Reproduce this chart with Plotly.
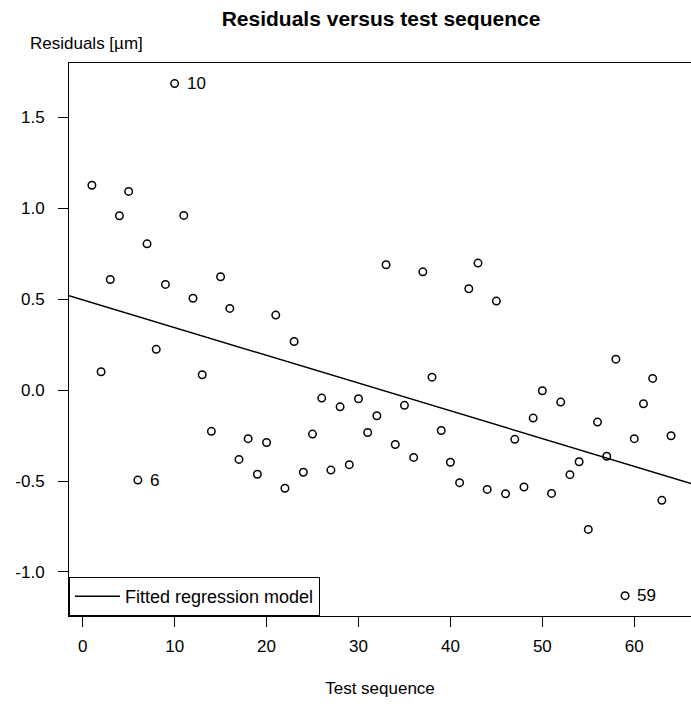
import numpy as np
import plotly.graph_objects as go

# ---- data ----
test_sequence = list(range(1, 65))
residuals = [
    1.126, 0.101, 0.608, 0.958, 1.092, -0.495, 0.804, 0.224, 0.581, 1.685,
    0.960, 0.505, 0.084, -0.227, 0.623, 0.449, -0.381, -0.267, -0.463, -0.288,
    0.412, -0.540, 0.267, -0.452, -0.242, -0.044, -0.440, -0.092, -0.410, -0.048,
    -0.233, -0.141, 0.689, -0.299, -0.084, -0.370, 0.650, 0.071, -0.222, -0.397,
    -0.509, 0.557, 0.698, -0.546, 0.489, -0.570, -0.271, -0.533, -0.154, -0.004,
    -0.568, -0.066, -0.465, -0.394, -0.766, -0.176, -0.364, 0.170, -1.130, -0.267,
    -0.075, 0.064, -0.606, -0.251,
]
labelled_points = [10, 6, 59]

x_tick_vals = [0, 10, 20, 30, 40, 50, 60]
x_tick_text = ["0", "10", "20", "30", "40", "50", "60"]
y_tick_vals = [-1.0, -0.5, 0.0, 0.5, 1.0, 1.5]
y_tick_text = ["-1.0", "-0.5", "0.0", "0.5", "1.0", "1.5"]

x_range = [-1.49, 66.17]
y_range = [-1.242, 1.798]

# fitted regression of residuals on test sequence
slope, intercept = np.polyfit(test_sequence, residuals, 1)
line_x = np.array(x_range)
line_y = intercept + slope * line_x

FONT = "Liberation Sans, Arial, Helvetica, sans-serif"

fig = go.Figure()
fig.add_trace(go.Scatter(
    x=test_sequence, y=residuals, mode="markers",
    marker=dict(symbol="circle-open", size=7.5, color="black",
                line=dict(color="black", width=1.5)),
    showlegend=False, hoverinfo="x+y",
))
fig.add_trace(go.Scatter(
    x=line_x, y=line_y, mode="lines",
    line=dict(color="black", width=1.5),
    name="Fitted regression model", showlegend=True,
))

for idx in labelled_points:
    fig.add_annotation(
        x=test_sequence[idx - 1], y=residuals[idx - 1], text=str(idx),
        xref="x", yref="y", xanchor="left", yanchor="middle",
        xshift=10, showarrow=False,
        font=dict(family=FONT, size=17, color="black"),
    )

fig.add_annotation(
    text="Residuals [µm]", xref="paper", yref="paper",
    x=(28 - 69) / 622, y=1, xanchor="left", yanchor="bottom", yshift=8,
    showarrow=False, font=dict(family=FONT, size=17, color="black"),
)

fig.update_layout(
    width=691, height=706,
    margin=dict(l=69, r=0, t=63, b=90),
    paper_bgcolor="white", plot_bgcolor="white",
    font=dict(family=FONT, size=17, color="black"),
    title=dict(text="<b>Residuals versus test sequence</b>",
               x=381 / 691, xanchor="center", y=1 - 19 / 706, yanchor="middle",
               font=dict(family=FONT, size=21, color="black")),
    legend=dict(x=0, y=0, xanchor="left", yanchor="bottom",
                bgcolor="white", bordercolor="black", borderwidth=1,
                itemwidth=45, tracegroupgap=0,
                font=dict(family=FONT, size=18, color="black")),
    showlegend=True,
)
fig.update_xaxes(
    range=x_range, tickvals=x_tick_vals, ticktext=x_tick_text,
    showgrid=False, zeroline=False, showline=True, linecolor="black",
    linewidth=1, mirror=True, ticks="outside", ticklen=10, tickcolor="black",
    tickwidth=1, ticklabelstandoff=5,
    tickfont=dict(family=FONT, size=17, color="black"),
    title=dict(text="Test sequence", font=dict(family=FONT, size=17, color="black"),
               standoff=26),
)
fig.update_yaxes(
    range=y_range, tickvals=y_tick_vals, ticktext=y_tick_text,
    showgrid=False, zeroline=False, showline=True, linecolor="black",
    linewidth=1, mirror=False, ticks="outside", ticklen=10, tickcolor="black",
    tickwidth=1, ticklabelstandoff=10,
    tickfont=dict(family=FONT, size=17, color="black"),
)

fig.write_html("out.html")
